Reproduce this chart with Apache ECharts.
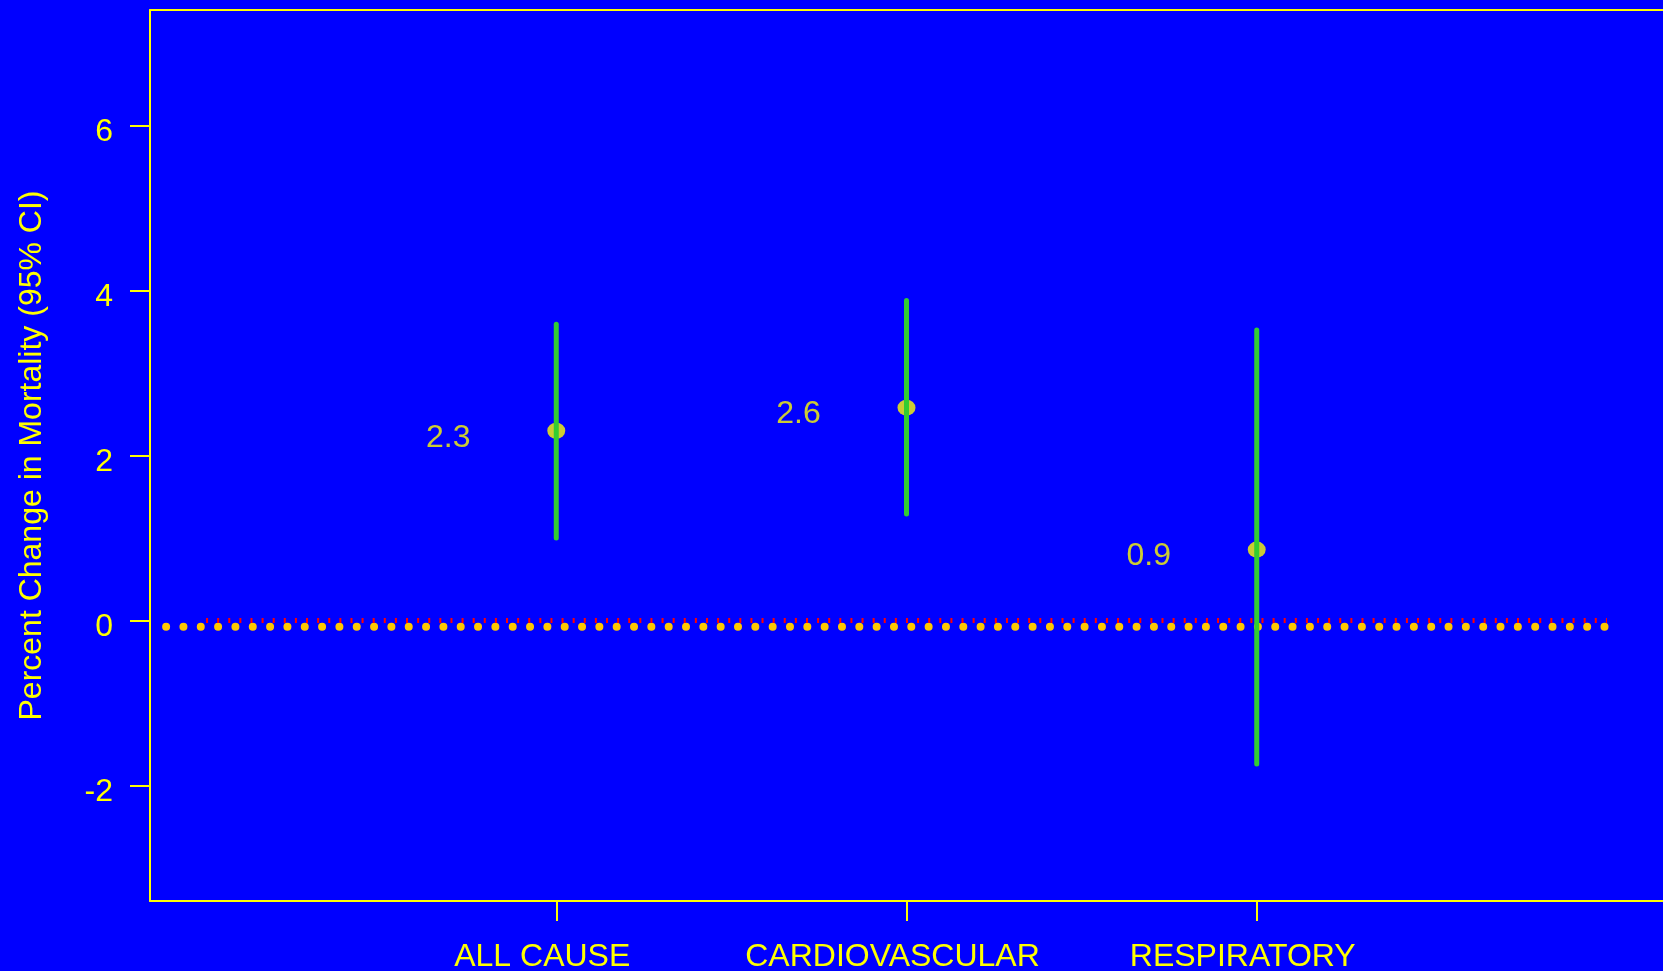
<!DOCTYPE html>
<html>
<head>
<meta charset="utf-8">
<title>Percent Change in Mortality</title>
<script src="https://cdn.jsdelivr.net/npm/echarts@6/dist/echarts.min.js"></script>
<style>
  html, body { margin: 0; padding: 0; background: #0000FF; }
  #chart { width: 1663px; height: 971px; }
</style>
</head>
<body>
<div id="chart"></div>
<script>
// Outcome categories and their positions on the x scale
const categories = ['ALL CAUSE', 'CARDIOVASCULAR', 'RESPIRATORY'];
const catPos = [1, 2, 3];

// Point estimates and 95% confidence limits (percent change)
const estimate = [2.3, 2.58, 0.86];
const ciLower = [1.0, 1.29, -1.74];
const ciUpper = [3.59, 3.88, 3.52];

// Axis ranges and tick values
const xRange = [-0.16, 4.16];
const yRange = [-3.4, 7.4];
const yTicks = [-2, 0, 2, 4, 6];

// Zero reference line (red) and the dotted row just beneath it
const zeroLineX = [0, 4];
const zeroLineY = 0;
const dotRowX = [-0.114, 3.998];
const dotRowY = -0.075;

const FONT = 'Liberation Sans, Arial, Helvetica, sans-serif';
const YELLOW = '#FFFF00';

const chart = echarts.init(document.getElementById('chart'), null, { renderer: 'canvas' });

const pointData = catPos.map((x, i) => [x, estimate[i]]);
const ciData = catPos.map((x, i) => [x, ciLower[i], ciUpper[i]]);

chart.setOption({
  backgroundColor: '#0000FF',
  animation: false,
  grid: {
    left: 150, top: 10, right: 0, bottom: 70,
    containLabel: false,
    outerBoundsMode: 'none'
  },
  xAxis: [
    {
      type: 'value',
      position: 'bottom',
      min: xRange[0],
      max: xRange[1],
      axisLine: { show: true, onZero: false, lineStyle: { color: YELLOW, width: 2 } },
      axisTick: {
        show: true, length: 20, inside: false,
        customValues: catPos,
        lineStyle: { color: YELLOW, width: 2 }
      },
      axisLabel: {
        show: true,
        customValues: catPos,
        margin: 40,
        padding: [0, 28, 0, 0],
        color: YELLOW,
        fontFamily: FONT,
        fontSize: 32,
        formatter: v => categories[catPos.indexOf(v)] || ''
      },
      splitLine: { show: false }
    },
    {
      type: 'value',
      position: 'top',
      min: xRange[0],
      max: xRange[1],
      axisLine: { show: true, onZero: false, lineStyle: { color: YELLOW, width: 2 } },
      axisTick: { show: false },
      axisLabel: { show: false },
      splitLine: { show: false }
    }
  ],
  yAxis: {
    type: 'value',
    min: yRange[0],
    max: yRange[1],
    name: 'Percent Change in Mortality (95% CI)',
    nameLocation: 'middle',
    nameGap: 102,
    nameTextStyle: { color: YELLOW, fontFamily: FONT, fontSize: 32 },
    axisLine: { show: true, onZero: false, lineStyle: { color: YELLOW, width: 2 } },
    axisTick: {
      show: true, length: 20, inside: false,
      customValues: yTicks,
      lineStyle: { color: YELLOW, width: 2 }
    },
    axisLabel: {
      show: true,
      customValues: yTicks,
      margin: 37,
      verticalAlign: 'top',
      lineHeight: 14,
      color: YELLOW,
      fontFamily: FONT,
      fontSize: 32
    },
    splitLine: { show: false }
  },
  series: [
    {
      // dotted row of gold dots under the zero line
      type: 'line',
      z: 1,
      data: [[dotRowX[0], dotRowY], [dotRowX[1], dotRowY]],
      symbol: 'none',
      silent: true,
      lineStyle: { color: '#FFC800', width: 8, type: [0, 17.33], cap: 'round' }
    },
    {
      // red dotted zero reference line
      type: 'line',
      z: 2,
      data: [[zeroLineX[0], zeroLineY], [zeroLineX[1], zeroLineY]],
      symbol: 'none',
      silent: true,
      lineStyle: { color: '#FF0000', width: 5, type: [2, 9.11], cap: 'butt' }
    },
    {
      // point estimates with their values written to the left
      type: 'scatter',
      z: 3,
      data: pointData,
      symbol: 'circle',
      symbolSize: [18, 16],
      itemStyle: { color: YELLOW },
      label: {
        show: true,
        position: 'inside',
        offset: [-108, 7],
        color: YELLOW,
        fontFamily: FONT,
        fontSize: 32,
        formatter: p => p.value[1].toFixed(1)
      }
    },
    {
      // 95% confidence interval whiskers
      type: 'custom',
      z: 4,
      data: ciData,
      encode: { x: 0, y: [1, 2] },
      renderItem: (params, api) => {
        const x = api.value(0);
        const lo = api.coord([x, api.value(1)]);
        const hi = api.coord([x, api.value(2)]);
        return {
          type: 'line',
          shape: { x1: lo[0], y1: lo[1], x2: hi[0], y2: hi[1] },
          style: { stroke: '#32CD32', lineWidth: 5, lineCap: 'round' }
        };
      }
    }
  ]
});
</script>
</body>
</html>
